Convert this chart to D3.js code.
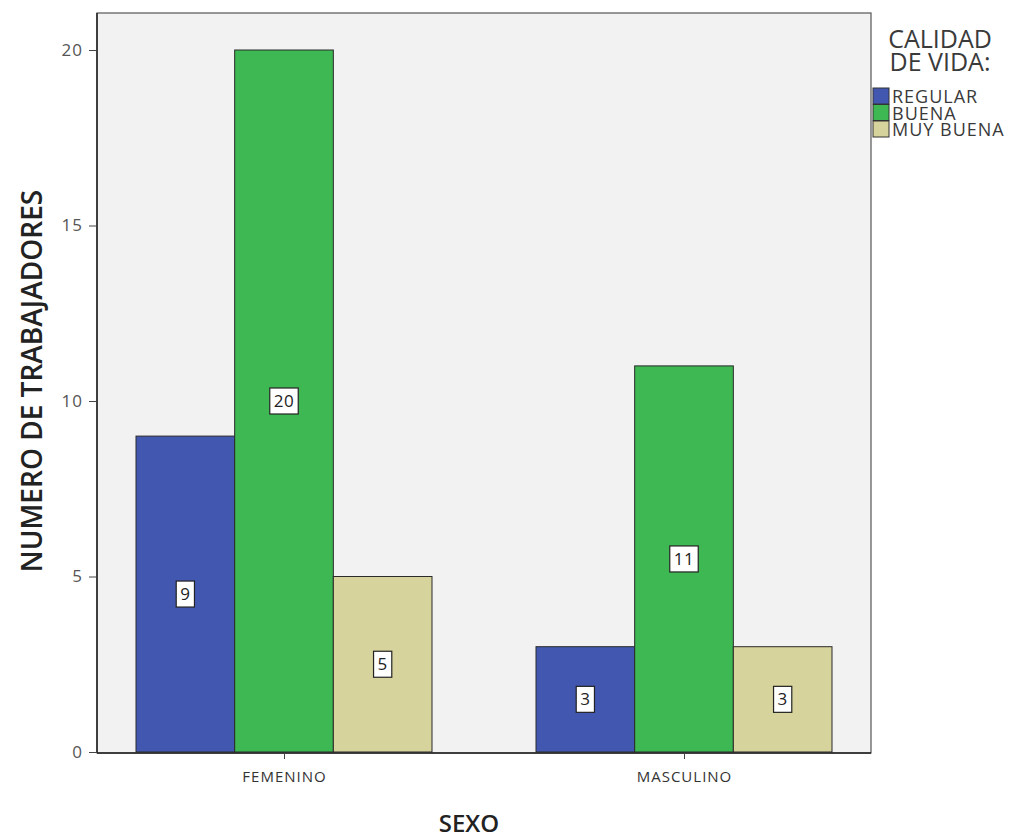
<!DOCTYPE html>
<html>
<head>
<meta charset="utf-8">
<script src="https://cdn.jsdelivr.net/npm/d3@7"></script>
<style>
  html, body { margin: 0; padding: 0; background: #ffffff; }
  svg { display: block; font-family: "Open Sans", "DejaVu Sans", sans-serif; }
</style>
</head>
<body>
<svg id="chart" width="1019" height="840"></svg>
<script>
// Grouped bar chart: workers by sex and quality of life
const categories = ["FEMENINO", "MASCULINO"];
const seriesNames = ["REGULAR", "BUENA", "MUY BUENA"];
const regular = [9, 3];
const buena = [20, 11];
const muyBuena = [5, 3];
const yTicks = [0, 5, 10, 15, 20];
const seriesColors = ["#4258b0", "#3db852", "#d7d39c"];

const seriesValues = [regular, buena, muyBuena];

const svg = d3.select("#chart");
const plot = { left: 97, right: 871, top: 13, bottom: 753 };

const x = d3.scalePoint()
  .domain(categories)
  .range([plot.left, plot.right])
  .padding(0.4675);

const xSub = d3.scaleBand()
  .domain(seriesNames)
  .range([-148, 148])
  .padding(0);

const y = d3.scaleLinear()
  .domain([0, 20])
  .range([plot.bottom - 1, 50]);

// plot background
svg.append("rect")
  .attr("x", plot.left)
  .attr("y", plot.top)
  .attr("width", plot.right - plot.left)
  .attr("height", plot.bottom - plot.top)
  .attr("fill", "#f2f2f3")
  .attr("stroke", "#555")
  .attr("stroke-width", 1.2);

// bars
const groups = svg.append("g").selectAll("g")
  .data(categories)
  .join("g")
  .attr("transform", d => `translate(${x(d)},0)`);

groups.selectAll("rect")
  .data((c, ci) => seriesNames.map((s, si) => ({ s, si, v: seriesValues[si][ci] })))
  .join("rect")
  .attr("x", d => xSub(d.s))
  .attr("width", xSub.bandwidth())
  .attr("y", d => y(d.v))
  .attr("height", d => y(0) - y(d.v))
  .attr("fill", d => seriesColors[d.si])
  .attr("stroke", "#2a2a2a")
  .attr("stroke-width", 1);

// value labels in boxes at bar mid-height
groups.each(function(c, ci) {
  const g = d3.select(this);
  seriesNames.forEach((s, si) => {
    const v = seriesValues[si][ci];
    const cx = xSub(s) + xSub.bandwidth() / 2;
    const cy = y(v / 2);
    const label = g.append("g").attr("transform", `translate(${cx},${cy})`);
    const txt = label.append("text")
      .attr("text-anchor", "middle")
      .attr("dy", "0.36em")
      .attr("font-size", 17)
      .attr("letter-spacing", 0.5)
      .attr("fill", "#222")
      .text(v);
    const w = txt.node().getComputedTextLength() + 8;
    label.insert("rect", "text")
      .attr("x", -w / 2)
      .attr("y", -13)
      .attr("width", w)
      .attr("height", 26)
      .attr("fill", "#ffffff")
      .attr("stroke", "#222")
      .attr("stroke-width", 1.2);
  });
});

// y axis
const yAxis = svg.append("g")
  .attr("transform", `translate(${plot.left},0)`)
  .call(d3.axisLeft(y).tickValues(yTicks).tickSize(8).tickPadding(6));
yAxis.select(".domain").attr("stroke", "#222").attr("stroke-width", 1.5)
  .attr("d", `M0,${plot.top}V${plot.bottom}`);
yAxis.selectAll(".tick line").attr("stroke", "#444");
yAxis.selectAll(".tick text")
  .attr("font-size", 17)
  .attr("letter-spacing", 1)
  .attr("fill", "#555")
  .attr("font-family", "\"Open Sans\", sans-serif");

// x axis
const xAxis = svg.append("g")
  .attr("transform", `translate(0,${plot.bottom})`)
  .call(d3.axisBottom(x).tickSize(6).tickPadding(12));
xAxis.select(".domain").attr("stroke", "#222").attr("stroke-width", 1.5)
  .attr("d", `M${plot.left},0H${plot.right}`);
xAxis.selectAll(".tick line").attr("stroke", "#444");
xAxis.selectAll(".tick text")
  .attr("font-size", 15)
  .attr("letter-spacing", 1)
  .attr("fill", "#333")
  .attr("font-family", "\"Open Sans\", sans-serif");

// axis titles
svg.append("text")
  .attr("x", 469)
  .attr("y", 832)
  .attr("text-anchor", "middle")
  .attr("font-size", 24)
  .attr("font-weight", 600)
  .attr("fill", "#222")
  .text("SEXO");

svg.append("text")
  .attr("transform", "translate(42,381) rotate(-90)")
  .attr("text-anchor", "middle")
  .attr("font-size", 28)
  .attr("font-weight", 600)
  .attr("fill", "#222")
  .text("NUMERO DE TRABAJADORES");

// legend
const legend = svg.append("g").attr("transform", "translate(873,0)");
legend.append("text")
  .attr("x", 67).attr("y", 48)
  .attr("text-anchor", "middle")
  .attr("font-size", 25)
  .attr("fill", "#3a3a3a")
  .text("CALIDAD");
legend.append("text")
  .attr("x", 67).attr("y", 71)
  .attr("text-anchor", "middle")
  .attr("font-size", 25)
  .attr("fill", "#3a3a3a")
  .text("DE VIDA:");

const items = legend.selectAll("g.item")
  .data(seriesNames)
  .join("g")
  .attr("class", "item")
  .attr("transform", (d, i) => `translate(0,${88 + i * 16.5})`);
items.append("rect")
  .attr("x", 0).attr("y", 0)
  .attr("width", 16).attr("height", 16)
  .attr("fill", (d, i) => seriesColors[i])
  .attr("stroke", "#333")
  .attr("stroke-width", 1);
items.append("text")
  .attr("x", 19).attr("y", 9)
  .attr("dy", "0.36em")
  .attr("font-size", 18)
  .attr("letter-spacing", 1)
  .attr("fill", "#3a3a3a")
  .text(d => d);
</script>
</body>
</html>
